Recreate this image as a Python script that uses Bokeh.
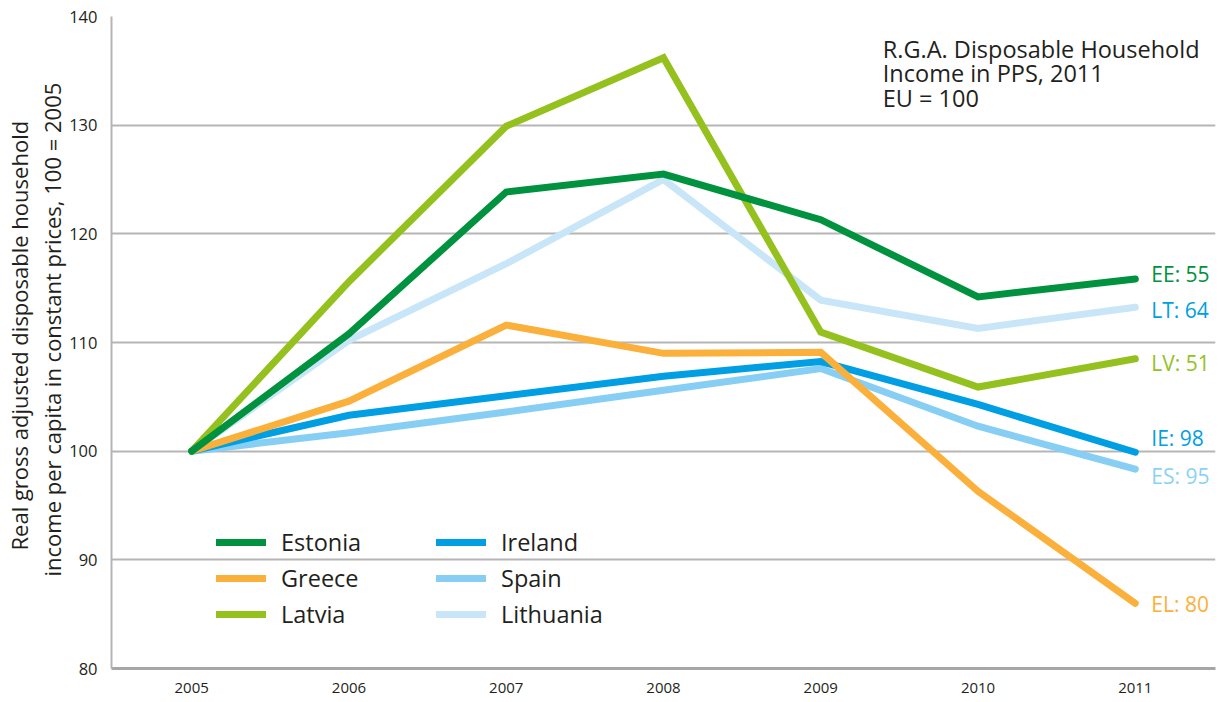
from bokeh.plotting import figure
from bokeh.models import Range1d, FixedTicker, Legend, LegendItem, Title, ColumnDataSource
from bokeh.core.properties import value
from bokeh.embed import file_html
from bokeh.resources import INLINE

# ---------------- data ----------------
years = [2005, 2006, 2007, 2008, 2009, 2010, 2011]
estonia = [100, 110.8, 123.85, 125.5, 121.3, 114.2, 115.85]
greece = [100, 104.6, 111.6, 109.0, 109.1, 96.3, 86.0]
latvia = [100, 115.6, 129.9, 136.2, 110.95, 105.9, 108.5]
ireland = [100, 103.3, 105.1, 106.9, 108.25, 104.3, 99.9]
spain = [100, 101.7, 103.6, 105.6, 107.6, 102.3, 98.35]
lithuania = [100, 110.2, 117.25, 125.0, 113.9, 111.3, 113.25]

country_names = ["Estonia", "Greece", "Latvia", "Ireland", "Spain", "Lithuania"]
country_codes = ["EE", "EL", "LV", "IE", "ES", "LT"]
rga_eu100 = [55, 80, 51, 98, 95, 64]  # R.G.A. disposable household income in PPS, 2011, EU=100

y_ticks = [80, 90, 100, 110, 120, 130, 140]
note_lines = ["R.G.A. Disposable Household", "Income in PPS, 2011", "EU = 100"]
y_title_1 = "Real gross adjusted disposable household"
y_title_2 = "income per capita in constant prices, 100 = 2005"

# ---------------- styles ----------------
FONT = "Open Sans"
TXT = "#231F20"
GRID = "#B5B5B5"
line_colors = {"Estonia": "#00923F", "Greece": "#FBB03B", "Latvia": "#95C11F",
               "Ireland": "#009EE2", "Spain": "#86CEF4", "Lithuania": "#C8E6F8"}
label_colors = {"Estonia": "#00923F", "Greece": "#FBB03B", "Latvia": "#95C11F",
                "Ireland": "#009EE2", "Spain": "#8AD2F5", "Lithuania": "#009EE2"}
label_dy = {"Estonia": -5, "Greece": 1, "Latvia": 4, "Ireland": -14, "Spain": 7, "Lithuania": 3}

series = {"Estonia": estonia, "Greece": greece, "Latvia": latvia,
          "Ireland": ireland, "Spain": spain, "Lithuania": lithuania}

p = figure(width=1225, height=700,
           x_range=Range1d(2004.49, 2011.51), y_range=Range1d(80, 140),
           output_backend="svg", toolbar_location=None,
           min_border_left=110, min_border_right=10, min_border_top=16, min_border_bottom=32)
p.outline_line_color = None
p.background_fill_color = "white"
p.border_fill_color = "white"

p.xgrid.visible = False
p.ygrid.ticker = FixedTicker(ticks=y_ticks[1:])
p.ygrid.grid_line_color = GRID
p.ygrid.grid_line_width = 2

p.xaxis.ticker = FixedTicker(ticks=years)
p.yaxis.ticker = FixedTicker(ticks=y_ticks)
for ax in (p.xaxis, p.yaxis):
    ax.major_tick_line_color = None
    ax.minor_tick_line_color = None
    ax.major_tick_out = 0
    ax.major_tick_in = 0
    ax.major_label_text_font = FONT
    ax.major_label_text_color = TXT
p.xaxis.major_label_text_font_size = "15px"
p.yaxis.major_label_text_font_size = "16.5px"
p.xaxis.major_label_standoff = 14
p.yaxis.major_label_standoff = 14
p.xaxis.axis_line_color = "#A6A6A6"
p.xaxis.axis_line_width = 3
p.yaxis.axis_line_color = GRID
p.yaxis.axis_line_width = 2

# y-axis title as two left titles
t2 = Title(text=y_title_2, align="left", offset=92, text_font=FONT, text_font_size="22px",
           text_font_style="normal", text_color=TXT, standoff=0)
t1 = Title(text=y_title_1, align="left", offset=118, text_font=FONT, text_font_size="22px",
           text_font_style="normal", text_color=TXT, standoff=2)
p.add_layout(t2, "left")
p.add_layout(t1, "left")

# lines (draw order: lighter first)
renderers = {}
for name in ["Lithuania", "Spain", "Ireland", "Greece", "Latvia", "Estonia"]:
    renderers[name] = p.line(years, series[name], line_color=line_colors[name], line_width=7,
                             line_cap="round", line_join="miter")

# end labels
src = ColumnDataSource(dict(
    x=[years[-1]] * len(country_names),
    y=[series[n][-1] for n in country_names],
    text=[f"{c}: {v}" for c, v in zip(country_codes, rga_eu100)],
    color=[label_colors[n] for n in country_names],
    dy=[label_dy[n] for n in country_names],
))
p.text(x="x", y="y", text="text", source=src, text_color="color", x_offset=16, y_offset="dy",
       text_font=value(FONT), text_font_size="21px", text_baseline="middle", text_align="left")

# note in the upper right
note_src = ColumnDataSource(dict(
    x=[years[4]] * len(note_lines),
    y=[y_ticks[-1]] * len(note_lines),
    text=note_lines,
    dy=[32, 56.5, 81],
))
p.text(x="x", y="y", text="text", source=note_src, x_offset=62, y_offset="dy",
       text_font=value(FONT), text_font_size="23.5px", text_baseline="middle",
       text_align="left", text_color=TXT)

# legends (two columns)
def make_legend(names, loc):
    lg = Legend(items=[LegendItem(label=n, renderers=[renderers[n]]) for n in names],
                location=loc, orientation="vertical", background_fill_alpha=0,
                border_line_color=None, padding=0, margin=0, spacing=0,
                glyph_width=50, glyph_height=36, label_height=36, label_standoff=15,
                label_text_font=FONT, label_text_font_size="23.5px", label_text_color=TXT,
                label_text_baseline="middle")
    p.add_layout(lg, "center")

make_legend(["Estonia", "Greece", "Latvia"], (105, 36))
make_legend(["Ireland", "Spain", "Lithuania"], (325, 36))

open("out.html", "w").write(file_html(p, INLINE))
